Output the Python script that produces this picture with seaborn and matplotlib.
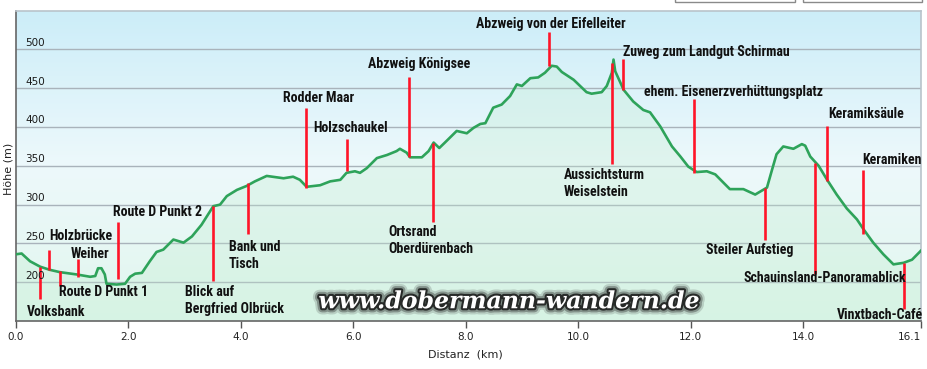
import numpy as np
import pandas as pd
import matplotlib
matplotlib.use("Agg")
import matplotlib.pyplot as plt
import seaborn as sns
from matplotlib import patheffects as pe, font_manager
from matplotlib.patches import Rectangle

# ---------------- data ----------------
distance_km = [0.00, 0.10, 0.25, 0.43, 0.60, 0.78, 1.08, 1.32, 1.41, 1.46, 1.52, 1.58, 1.61,
               1.79, 1.94, 2.03, 2.12, 2.24, 2.38, 2.50, 2.62, 2.80, 2.98, 3.13, 3.30, 3.51,
               3.63, 3.75, 3.93, 4.10, 4.25, 4.46, 4.76, 4.93, 5.05, 5.17, 5.41, 5.59, 5.77,
               5.88, 6.03, 6.12, 6.24, 6.42, 6.60, 6.77, 6.83, 6.95, 7.01, 7.22, 7.34, 7.43,
               7.53, 7.63, 7.84, 8.02, 8.14, 8.26, 8.35, 8.49, 8.64, 8.79, 8.91, 9.00, 9.15,
               9.29, 9.41, 9.53, 9.62, 9.71, 9.92, 10.15, 10.24, 10.42, 10.51, 10.60, 10.63,
               10.66, 10.81, 10.98, 11.16, 11.28, 11.46, 11.67, 11.82, 11.96, 12.11, 12.29,
               12.44, 12.59, 12.70, 12.94, 13.15, 13.36, 13.45, 13.53, 13.65, 13.83, 13.98,
               14.04, 14.13, 14.28, 14.43, 14.60, 14.78, 14.96, 15.08, 15.25, 15.43, 15.61,
               15.79, 15.94, 16.09, 16.10]
elevation_m = [236, 237, 227, 220, 216, 213, 210, 207, 208, 218, 218, 210, 198,
               197, 198, 207, 211, 212, 227, 239, 242, 255, 251, 259, 274, 298,
               300, 311, 319, 324, 330, 337, 334, 336, 332, 323, 325, 330, 332,
               341, 343, 341, 347, 360, 364, 369, 372, 367, 361, 361, 369, 380,
               373, 380, 395, 392, 399, 404, 405, 425, 429, 440, 455, 453, 463,
               464, 470, 479, 478, 471, 461, 445, 443, 445, 453, 470, 487,
               472, 448, 433, 422, 419, 401, 375, 362, 349, 342, 343,
               339, 328, 320, 320, 313, 322, 345, 365, 375, 372, 378,
               376, 362, 350, 332, 313, 295, 281, 268, 251, 236, 223,
               225, 229, 240, 241]

marker_names = ["Volksbank", "Holzbrücke", "Route D Punkt 1", "Weiher", "Route D Punkt 2",
                "Blick auf\nBergfried Olbrück", "Bank und\nTisch", "Rodder Maar", "Holzschaukel",
                "Abzweig Königsee", "Ortsrand\nOberdürenbach", "Abzweig von der Eifelleiter",
                "Aussichtsturm\nWeiselstein", "Zuweg zum Landgut Schirmau",
                "ehem. Eisenerzverhüttungsplatz", "Steiler Aufstieg",
                "Schauinsland-Panoramablick", "Keramiksäule", "Keramiken", "Vinxtbach-Café"]
marker_km = [0.43, 0.59, 0.78, 1.11, 1.81, 3.50, 4.12, 5.16, 5.88, 6.99, 7.41, 9.48,
             10.61, 10.80, 12.06, 13.32, 14.22, 14.43, 15.07, 15.80]

x_ticks = [0, 2, 4, 6, 8, 10, 12, 14, 16.1]
x_tick_labels = ["0.0", "2.0", "4.0", "6.0", "8.0", "10.0", "12.0", "14.0", "16.1"]
y_ticks = [200, 250, 300, 350, 400, 450, 500]
y_tick_labels = ["200", "250", "300", "350", "400", "450", "500"]

# ---------------- layout (stem ends & label anchors) ----------------
stem_top = [219, 242, 214, 230, 278, 298, 328, 425, 384, 465, 380, 522, 483, 488, 436, 321, 354, 401, 345, 225]
stem_bottom = [178, 216, 195, 207, 204, 201, 262, 322, 344, 362, 277, 479, 353, 448, 341, 254, 210, 330, 262, 166]
label_x = [0.20, 0.60, 0.77, 0.98, 1.73, 3.01, 3.79, 4.75, 5.28, 6.26, 6.62, 8.19, 9.75, 10.80,
           11.17, 12.28, 12.95, 14.45, 15.05, 14.60]
label_y = [162, 260, 187, 236, 291, 176, 234, 438, 399, 481, 254, 533, 327, 497, 445, 242, 205, 417, 358, 158]

# ---------------- style ----------------
sns.set_theme(style="white")
plt.rcParams["font.family"] = ["DejaVu Sans"]

available = {f.name for f in font_manager.fontManager.ttflist}
label_family = next((n for n in ["Liberation Sans Narrow", "Roboto Condensed", "Open Sans Condensed"]
                     if n in available), None)
label_kw = dict(fontsize=10, fontweight="bold", color="#111111")
if label_family:
    label_kw["fontfamily"] = [label_family, "DejaVu Sans"]
else:
    label_kw["fontfamily"] = ["DejaVu Sans"]
    label_kw["fontstretch"] = "condensed"
    label_kw["fontsize"] = 8.5

W, H = 928, 369
fig = plt.figure(figsize=(W / 100, H / 100), dpi=100)
fig.patch.set_facecolor("white")
ax = fig.add_axes([16 / W, 1 - 321 / H, (921 - 16) / W, (321 - 10.7) / H])

XMIN, XMAX, YMIN, YMAX = 0, 16.1, 150, 550

# gradient background
stops_pos = np.array([0.0, 0.5, 1.0])  # bottom -> top
stops_col = np.array([[0.88, 0.965, 0.93], [0.93, 0.975, 0.985], [0.80, 0.93, 0.975]])
t = np.linspace(0, 1, 256)
grad = np.stack([np.interp(t, stops_pos, stops_col[:, c]) for c in range(3)], axis=-1)
grad = grad[::-1][:, None, :]
ax.imshow(grad, extent=[XMIN, XMAX, YMIN, YMAX], aspect="auto", zorder=0,
          interpolation="bilinear")

for y in y_ticks:
    ax.axhline(y, color="#a9b3bb", lw=1.0, zorder=1)

df = pd.DataFrame({"km": distance_km, "elev": elevation_m})
ax.fill_between(df["km"], df["elev"], YMIN, color="#bfeccd", alpha=0.28, lw=0, zorder=1.5)
sns.lineplot(data=df, x="km", y="elev", ax=ax, color="#2ea35a", lw=1.9, zorder=3,
             sort=False, estimator=None)

ax.vlines(marker_km, stem_bottom, stem_top, color="#ff1428", lw=1.9, zorder=4)
for name, lx, ly in zip(marker_names, label_x, label_y):
    ax.text(lx, ly, name, ha="left", va="center", linespacing=1.3, zorder=5, **label_kw)

# watermark
ax.text(8.77, 175.5, "www.dobermann-wandern.de", ha="center", va="center",
        fontfamily="DejaVu Serif", fontstyle="italic", fontweight="bold", fontsize=17,
        color="white", zorder=6,
        path_effects=[pe.Stroke(linewidth=9, foreground="#303030", alpha=0.18),
                      pe.Stroke(linewidth=6, foreground="#202020", alpha=0.35),
                      pe.Stroke(linewidth=3, foreground="#101010", alpha=0.8),
                      pe.Normal()])

# y tick labels inside plot
for y, lab in zip(y_ticks, y_tick_labels):
    ax.text(0.16, y + 8.6, lab, ha="left", va="center", fontsize=7.5, color="#1a1a1a", zorder=5)

ax.set_xlim(XMIN, XMAX)
ax.set_ylim(YMIN, YMAX)
ax.set_xticks(x_ticks)
ax.set_xticklabels(x_tick_labels, fontsize=7.5, color="#222222")
ax.get_xticklabels()[-1].set_horizontalalignment("right")
ax.set_yticks([])
ax.tick_params(axis="x", direction="out", length=5, width=1, color="#555555", pad=3, bottom=True)
ax.set_xlabel("Distanz  (km)", fontsize=8, color="#222222")
ax.xaxis.set_label_coords(0.497, -0.092)
ax.set_ylabel("Höhe (m)", fontsize=8, color="#222222")
ax.yaxis.set_label_coords(-0.003, 0.49)

for s in ["left", "bottom"]:
    ax.spines[s].set_color("#666666")
    ax.spines[s].set_linewidth(1.2)
for s in ["top", "right"]:
    ax.spines[s].set_color("#b9c3cb")
    ax.spines[s].set_linewidth(1.2)

# partial UI boxes at the top edge
for x0, w in [(675, 120), (803, 119)]:
    fig.patches.append(Rectangle((x0 / W, 1 - 1.5 / H), w / W, 0.1, transform=fig.transFigure,
                                 fill=False, ec="#8a8a8a", lw=1))

fig.savefig("out.png", dpi=100)
